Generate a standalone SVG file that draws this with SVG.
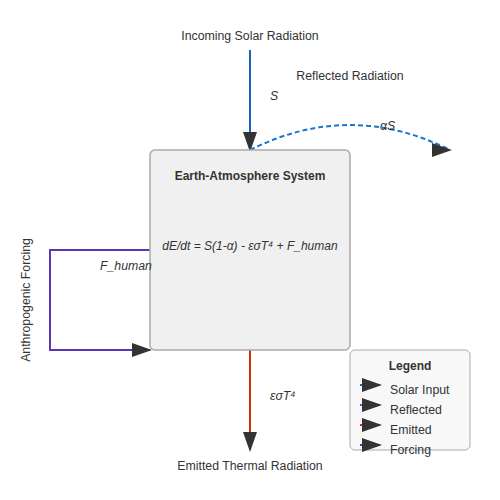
<svg xmlns="http://www.w3.org/2000/svg" width="500" height="500" viewBox="0 0 500 500">
<defs>
<style>
text{font-family:"Liberation Sans",Arial,sans-serif;font-size:12.3px;fill:#333}
.t{text-anchor:middle}
.i{font-style:italic}
.b{font-weight:bold;font-size:12px}
.eq{font-size:12px}
.box{fill:#f0f0f0;stroke:#aaa;stroke-width:1.5}
.c{fill:none;stroke-width:2;marker-end:url(#ah)}
</style>
<marker id="ah" viewBox="0 0 10 7" markerWidth="10" markerHeight="7" refX="9" refY="3.5" orient="auto">
<polygon points="0 0,10 3.5,0 7" fill="#333"/>
</marker>
<marker id="ahr" viewBox="0 0 10 7" markerWidth="10" markerHeight="7" refX="9" refY="3.5" orient="0">
<polygon points="0 0,10 3.5,0 7" fill="#333"/>
</marker>
</defs>
<rect width="500" height="500" fill="#fff"/>
<g id="connectors">
<line class="c" x1="250" y1="50" x2="250" y2="150" stroke="#1565c0"/>
<path class="c" d="M250,150 Q350,100 450,150" stroke="#1976d2" stroke-dasharray="5,3" style="marker-end:url(#ahr)"/>
<line class="c" x1="250" y1="350" x2="250" y2="450" stroke="#cc3300"/>
<path class="c" d="M150,250 L50,250 L50,350 L150,350" stroke="#5e35b1"/>
</g>
<g id="earth">
<rect class="box" x="150" y="150" width="200" height="200" rx="5"/>
<text class="t b" x="250" y="180">Earth-Atmosphere System</text>
<text class="t i eq" x="250" y="250">dE/dt = S(1-α) - εσT⁴ + F_human</text>
</g>
<g id="labels">
<text class="t" x="250" y="40">Incoming Solar Radiation</text>
<text class="i" x="270" y="100">S</text>
<text class="t" x="350" y="80">Reflected Radiation</text>
<text class="i" x="380" y="130">αS</text>
<text class="i" x="270" y="400">εσT⁴</text>
<text class="t" x="250" y="470">Emitted Thermal Radiation</text>
<text class="i" x="100" y="270">F_human</text>
<text class="t" transform="translate(30,300) rotate(-90)">Anthropogenic Forcing</text>
</g>
<g id="legend">
<rect x="350" y="350" width="120" height="100" rx="5" fill="#f8f8f8" stroke="#aaa"/>
<text class="t b" x="410" y="370">Legend</text>
<line class="c" x1="360" y1="385" x2="380" y2="385" stroke="#1565c0"/>
<text x="390" y="394">Solar Input</text>
<line class="c" x1="360" y1="405" x2="380" y2="405" stroke="#1976d2"/>
<text x="390" y="414">Reflected</text>
<line class="c" x1="360" y1="425" x2="380" y2="425" stroke="#cc3300"/>
<text x="390" y="434">Emitted</text>
<line class="c" x1="360" y1="445" x2="380" y2="445" stroke="#5e35b1"/>
<text x="390" y="454">Forcing</text>
</g>
</svg>
